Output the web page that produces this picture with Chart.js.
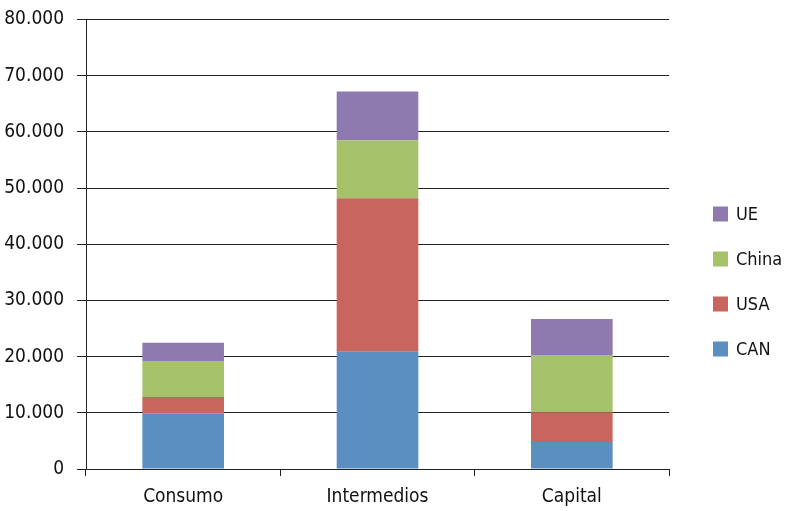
<!DOCTYPE html>
<html>
<head>
<meta charset="utf-8">
<script src="https://cdn.jsdelivr.net/npm/chart.js@4"></script>
<style>
  html, body { margin: 0; padding: 0; background: #fff; }
  #wrap { width: 788px; height: 511px; position: relative; }
</style>
</head>
<body>
<div id="wrap"><canvas id="chart"></canvas></div>
<script>
// Categories and stacked series
var categories = ['Consumo', 'Intermedios', 'Capital'];
var canValues = [9900, 20850, 4800];
var usaValues = [2900, 27350, 5300];
var chinaValues = [6400, 10300, 10200];
var ueValues = [3250, 8700, 6400];
var yTicks = [0, 10000, 20000, 30000, 40000, 50000, 60000, 70000, 80000];

var fontFamily = '"DejaVu Sans Condensed", "Liberation Sans Narrow", "Liberation Sans", sans-serif';

// 80000 -> "80.000"
function formatThousands(v) {
  return String(v).replace(/\B(?=(\d{3})+(?!\d))/g, '.');
}

// Legend drawn on the right, top item last dataset (like the original)
var sideLegend = {
  id: 'sideLegend',
  afterDraw: function(chart) {
    var c = chart.ctx;
    var area = chart.chartArea;
    var sets = chart.data.datasets.slice().reverse();
    var x = area.right + 44;
    var y0 = 214;
    c.save();
    c.font = '18px ' + fontFamily;
    c.textBaseline = 'middle';
    c.textAlign = 'left';
    sets.forEach(function(ds, i) {
      var y = y0 + i * 45;
      c.fillStyle = ds.backgroundColor;
      c.fillRect(x, y - 7.5, 15, 15);
      c.fillStyle = '#111';
      c.fillText(ds.label, x + 23, y + 1);
    });
    c.restore();
  }
};

var ctx = document.getElementById('chart').getContext('2d');
var chart = new Chart(ctx, {
  type: 'bar',
  data: {
    labels: categories,
    datasets: [
      { label: 'CAN', data: canValues, backgroundColor: '#5B8FC2' },
      { label: 'USA', data: usaValues, backgroundColor: '#C8655E' },
      { label: 'China', data: chinaValues, backgroundColor: '#A5C26B' },
      { label: 'UE', data: ueValues, backgroundColor: '#8F7AB0' }
    ]
  },
  plugins: [sideLegend],
  options: {
    responsive: true,
    maintainAspectRatio: false,
    animation: false,
    datasets: {
      bar: { categoryPercentage: 1, barPercentage: 0.42, borderWidth: 0 }
    },
    layout: { padding: { top: 19.5, right: 119, left: 0, bottom: 0 } },
    plugins: {
      tooltip: { enabled: false },
      legend: { display: false }
    },
    scales: {
      x: {
        stacked: true,
        afterFit: function(axis) { axis.height = 42; },
        grid: {
          offset: true,
          drawOnChartArea: false,
          tickLength: 7,
          color: '#222'
        },
        border: { color: '#222', width: 1 },
        ticks: {
          color: '#111',
          padding: 12,
          font: { family: fontFamily, size: 19, lineHeight: 1 }
        }
      },
      y: {
        stacked: true,
        min: 0,
        max: 80000,
        afterFit: function(axis) {
          axis.width = 86;
          axis.paddingTop = 0;
          axis.paddingBottom = 0;
        },
        afterBuildTicks: function(axis) {
          axis.ticks = yTicks.map(function(v) { return { value: v }; });
        },
        grid: { color: '#222', lineWidth: 1, tickLength: 9 },
        border: { color: '#222', width: 1 },
        ticks: {
          color: '#111',
          padding: 13,
          font: { family: fontFamily, size: 19 },
          callback: function(v) { return formatThousands(v); }
        }
      }
    }
  }
});
</script>
</body>
</html>
